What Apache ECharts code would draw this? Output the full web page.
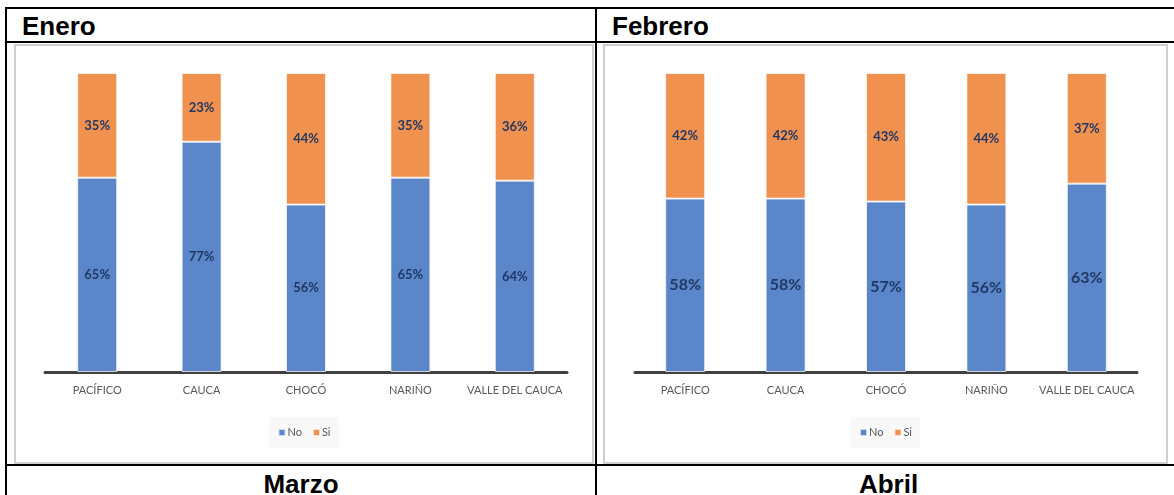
<!DOCTYPE html>
<html>
<head>
<meta charset="utf-8">
<script src="https://cdn.jsdelivr.net/npm/echarts@6/dist/echarts.min.js"></script>
<style>
  html, body { margin: 0; padding: 0; background: #ffffff; }
  body { width: 1174px; height: 495px; position: relative; overflow: hidden; font-family: "Liberation Sans", Arial, sans-serif; }
  .hline { position: absolute; height: 2px; background: #000; }
  .vline { position: absolute; width: 2px; background: #000; }
  .frame { position: absolute; border: 2px solid #cfcfcf; box-sizing: border-box; }
  .chart { position: absolute; }
  .head { position: absolute; font-weight: bold; font-size: 26px; color: #000; line-height: 30px; }
</style>
</head>
<body>
  <!-- tabla contenedora -->
  <div class="hline" style="left:5px; top:7px; width:1169px;"></div>
  <div class="hline" style="left:5px; top:41px; width:1169px;"></div>
  <div class="hline" style="left:5px; top:464px; width:1169px;"></div>
  <div class="vline" style="left:5px; top:7px; height:488px;"></div>
  <div class="vline" style="left:595px; top:7px; height:488px;"></div>

  <div class="head" style="left:22px; top:11px;">Enero</div>
  <div class="head" style="left:612px; top:11px;">Febrero</div>
  <div class="head" style="left:7px; width:588px; top:469px; text-align:center;">Marzo</div>
  <div class="head" style="left:597px; width:583px; top:469px; text-align:center;">Abril</div>

  <div class="frame" style="left:14px; top:44px; width:580px; height:420px;"></div>
  <div class="frame" style="left:603px; top:44px; width:565px; height:420px;"></div>

  <div id="chart-enero" class="chart" style="left:15px; top:45px; width:578px; height:417px;"></div>
  <div id="chart-febrero" class="chart" style="left:604px; top:45px; width:563px; height:417px;"></div>

<script>
// Participación No / Si por subregión (Pacífico)

const categories = ["PACÍFICO", "CAUCA", "CHOCÓ", "NARIÑO", "VALLE DEL CAUCA"];
const seriesNames = ["No", "Si"];

// Enero
const eneroNo = [65, 77, 56, 65, 64];
const eneroSi = [35, 23, 44, 35, 36];

// Febrero
const febreroNo = [58, 58, 57, 56, 63];
const febreroSi = [42, 42, 43, 44, 37];

const COLORS = {
  no:    "#5b87ca",
  si:    "#f0914f",
  label: "#203864",
  axis:  "#404040",
  text:  "#595959",
};

const FONT = 'Lato, "Open Sans", sans-serif';

function makeOption(noVals, siVals, grid, noLabelSize, siLabelSize) {
  const barStyle = (color) => ({ color, borderColor: "rgba(255,255,255,0.7)", borderWidth: 1 });
  return {
    animation: false,
    backgroundColor: "transparent",
    textStyle: { fontFamily: FONT },
    grid,
    legend: {
      data: seriesNames,
      top: 372,
      left: "center",
      icon: "rect",
      itemWidth: 7,
      itemHeight: 7,
      itemGap: 10,
      padding: [10, 8],
      backgroundColor: "#f8f8f8",
      textStyle: { fontFamily: FONT, fontSize: 11, color: COLORS.text, padding: [0, 0, 0, -3] },
    },
    xAxis: {
      type: "category",
      data: categories,
      axisLine: { lineStyle: { color: COLORS.axis, width: 3 } },
      axisTick: { show: false },
      axisLabel: { fontFamily: FONT, fontSize: 11, color: COLORS.text, margin: 13, interval: 0 },
    },
    yAxis: {
      type: "value",
      min: 0,
      max: 100,
      show: false,
      splitLine: { show: false },
    },
    series: [
      {
        name: seriesNames[0],
        type: "bar",
        stack: "total",
        barWidth: 40,
        data: noVals,
        itemStyle: barStyle(COLORS.no),
        label: { show: true, position: "inside", formatter: "{c}%", fontFamily: FONT, fontWeight: "bold", fontSize: noLabelSize, color: COLORS.label },
      },
      {
        name: seriesNames[1],
        type: "bar",
        stack: "total",
        barWidth: 40,
        data: siVals,
        itemStyle: barStyle(COLORS.si),
        label: { show: true, position: "inside", formatter: "{c}%", fontFamily: FONT, fontWeight: "bold", fontSize: siLabelSize, color: COLORS.label },
      },
    ],
  };
}

const eneroChart = echarts.init(document.getElementById("chart-enero"), null, { renderer: "canvas" });
eneroChart.setOption(makeOption(eneroNo, eneroSi, { left: 30, right: 26, top: 28, bottom: 90 }, 13, 13));

const febreroChart = echarts.init(document.getElementById("chart-febrero"), null, { renderer: "canvas" });
febreroChart.setOption(makeOption(febreroNo, febreroSi, { left: 31, right: 30, top: 28, bottom: 90 }, 16, 13));
</script>
</body>
</html>
